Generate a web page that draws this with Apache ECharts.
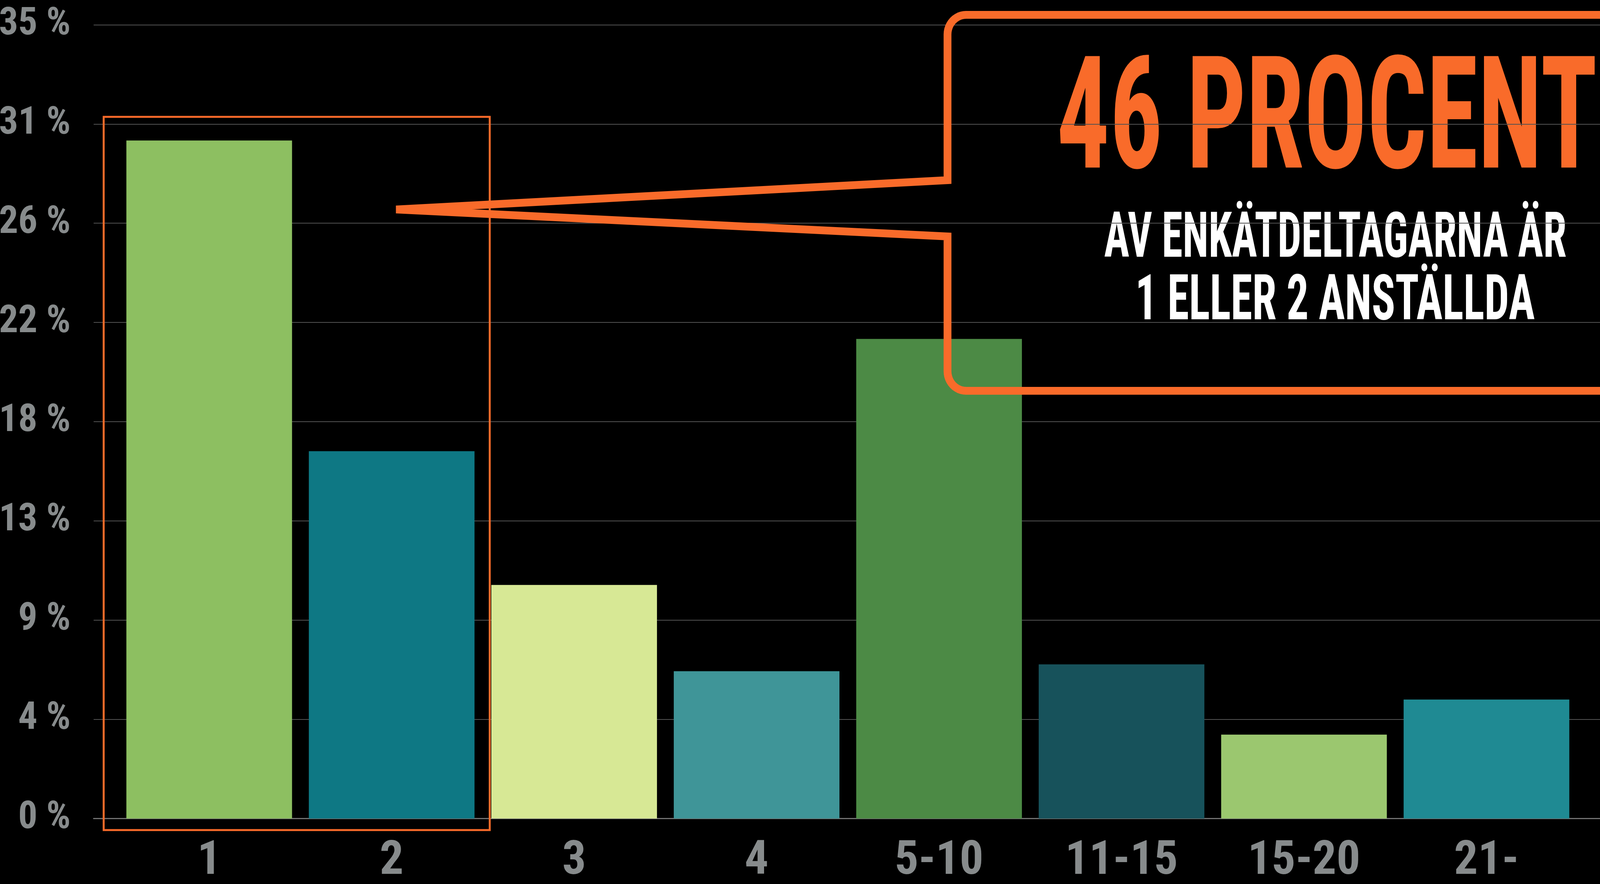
<!DOCTYPE html>
<html>
<head>
<meta charset="utf-8">
<script src="https://cdn.jsdelivr.net/npm/echarts/dist/echarts.min.js"></script>
<style>
html,body{margin:0;padding:0;background:#000;overflow:hidden;}
#chart{width:100vw;height:100vh;}
</style>
</head>
<body>
<div id="chart"></div>
<script>
// ---- data ----
const categories = ['1', '2', '3', '4', '5-10', '11-15', '15-20', '21-'];
const shares = [29.9, 16.2, 10.3, 6.5, 21.15, 6.8, 3.7, 5.25];
const barColors = ['#8DBF61', '#0E7884', '#D7E895', '#3F9598', '#4C8A45', '#17525B', '#9BC76F', '#1F8A93'];
const yMax = 35;
const yStep = 4.375;
const calloutTitle = '46 PROCENT';
const calloutLines = ['AV ENKÄTDELTAGARNA ÄR', '1 ELLER 2 ANSTÄLLDA'];

// ---- styling ----
const ORANGE = '#F96B2A';
const GREY = '#878B8C';

const ctx = document.createElement('canvas').getContext('2d');
function rawInk(font, text) {
  ctx.font = font;
  ctx.textBaseline = 'middle';
  ctx.textAlign = 'center';
  const m = ctx.measureText(text);
  return {w: m.width, ink: m.actualBoundingBoxLeft + m.actualBoundingBoxRight,
          cap: m.actualBoundingBoxAscent + m.actualBoundingBoxDescent};
}
// pick the most condensed installed sans face
const candidates = ['Noto Sans ExtraCondensed', 'Noto Sans Condensed', 'Roboto Condensed',
  'Open Sans Condensed', 'Liberation Sans Narrow', 'Noto Sans SemiCondensed', 'DejaVu Sans Condensed'];
let best = null, bestRatio = Infinity;
for (const c of candidates) {
  const probe = '35 % ABCmwi';
  const a = rawInk("bold 100px '" + c + "', monospace", probe).w;
  const b = rawInk("bold 100px '" + c + "', serif", probe).w;
  if (Math.abs(a - b) > 0.01) continue; // not installed
  const r = rawInk("bold 100px '" + c + "'", '35 %').ink / rawInk("bold 100px '" + c + "'", 'E').cap;
  if (r < bestRatio) { bestRatio = r; best = c; }
}
const FAMILY = (best ? "'" + best + "'," : '') + "'DejaVu Sans Condensed',sans-serif";

const chart = echarts.init(document.getElementById('chart'), null, {renderer: 'canvas'});
// layout is designed on a 4306 x 2262 frame and scaled to the actual view
const sx = chart.getWidth() / 4306;
const sy = chart.getHeight() / 2262;
const X = v => v * sx;
const Y = v => v * sy;

function meas(text, size) {
  ctx.font = 'bold ' + size + 'px ' + FAMILY;
  ctx.textBaseline = 'middle';
  ctx.textAlign = 'center';
  const m = ctx.measureText(text);
  return {
    left: m.actualBoundingBoxLeft, right: m.actualBoundingBoxRight,
    asc: m.actualBoundingBoxAscent, desc: m.actualBoundingBoxDescent,
    ink: m.actualBoundingBoxLeft + m.actualBoundingBoxRight
  };
}
const mE = meas('E', 100);
const capRatio = (mE.asc + mE.desc) / 100;

const yLabelRight = 190;
const ySize = Math.min(Y(97) / capRatio, 100 * X(yLabelRight - 4) / meas('35 %', 100).ink);
const xSize = Math.min(Y(95) / capRatio, 100 * X(290) / meas('11-15', 100).ink);

function fitText(text, capH, inkW, cx, cy, color) {
  const size = Y(capH) / capRatio;
  const m = meas(text, size);
  const e = meas('E', size);
  const s = X(inkW) / m.ink;
  const inkOff = (m.right - m.left) / 2;
  return {
    type: 'text', z: -5,
    x: X(cx) - inkOff * s,
    y: Y(cy) - (e.desc - e.asc) / 2,
    scaleX: s, scaleY: 1,
    silent: true,
    style: {
      text: text, fill: color,
      fontSize: size, fontWeight: 'bold', fontFamily: FAMILY,
      align: 'center', verticalAlign: 'middle',
      textAlign: 'center', textVerticalAlign: 'middle'
    }
  };
}

// callout outline as a polyline (rounded corners sampled as quarter arcs)
function arcPts(cx, cy, r, a0, a1, n) {
  const pts = [];
  for (let i = 0; i <= n; i++) {
    const a = a0 + (a1 - a0) * i / n;
    pts.push([X(cx + r * Math.cos(a)), Y(cy + r * Math.sin(a))]);
  }
  return pts;
}
const BX = 2550, BT = 38, BB = 1000, BR = 50;
const calloutPts = [[X(4420), Y(BT)]]
  .concat(arcPts(BX + BR, BT + BR, BR, -Math.PI / 2, -Math.PI, 12))
  .concat([[X(BX), Y(461)], [X(1066), Y(536)], [X(BX), Y(605)]])
  .concat(arcPts(BX + BR, BB - BR, BR, Math.PI, Math.PI / 2, 12))
  .concat([[X(4420), Y(BB)]]);

chart.setOption({
  backgroundColor: '#000',
  animation: false,
  grid: [
    {left: X(252), right: 0, top: Y(63.4), bottom: Y(167.4), containLabel: false, outerBoundsMode: 'none'},
    {left: X(317.5), right: X(60), top: Y(63.4), bottom: Y(167.4), containLabel: false, outerBoundsMode: 'none'}
  ],
  xAxis: [
    {
      gridIndex: 0, type: 'value', min: 0, max: 1,
      axisLine: {show: true, lineStyle: {color: '#727272', width: Y(3)}},
      axisTick: {show: false}, axisLabel: {show: false}, splitLine: {show: false}
    },
    {
      gridIndex: 1, type: 'category', data: categories,
      axisLine: {show: false}, axisTick: {show: false}, splitLine: {show: false},
      axisLabel: {
        show: true, interval: 0, color: GREY, fontSize: xSize, fontWeight: 'bold',
        fontFamily: FAMILY, margin: Y(111), verticalAlign: 'middle', lineHeight: xSize
      }
    }
  ],
  yAxis: [
    {
      gridIndex: 0, type: 'value', min: 0, max: yMax, interval: yStep,
      axisLine: {show: false}, axisTick: {show: false},
      splitLine: {show: true, lineStyle: {color: '#525252', width: Y(2)}},
      axisLabel: {
        show: true, color: GREY, fontSize: ySize, fontWeight: 'bold', fontFamily: FAMILY,
        align: 'right', verticalAlign: 'middle', margin: X(252 - yLabelRight),
        padding: [0, 0, Y(36), 0],
        formatter: v => Math.round(v) + ' %'
      }
    },
    {
      gridIndex: 1, type: 'value', min: 0, max: yMax, interval: yStep, show: false,
      splitLine: {show: false}
    }
  ],
  series: [{
    type: 'bar', xAxisIndex: 1, yAxisIndex: 1,
    barCategoryGap: '9.2%',
    data: shares.map((v, i) => ({value: v, itemStyle: {color: barColors[i]}})),
    label: {show: false}
  }],
  graphic: [
    fitText(calloutTitle, 285, 1447, 3572, 284.5, ORANGE),
    fitText(calloutLines[0], 115, 1242, 3593, 599.5, '#FFFFFF'),
    fitText(calloutLines[1], 115, 1066, 3597, 759, '#FFFFFF'),
    {
      type: 'polyline', z: 10, silent: true,
      shape: {points: calloutPts},
      style: {stroke: ORANGE, lineWidth: Y(20), fill: null, lineJoin: 'miter', miterLimit: 10}
    },
    {
      type: 'rect', z: 10, silent: true,
      shape: {x: X(279), y: Y(299), width: X(1039), height: Y(1825)},
      style: {stroke: ORANGE, lineWidth: Y(5), fill: null}
    }
  ]
});
</script>
</body>
</html>
